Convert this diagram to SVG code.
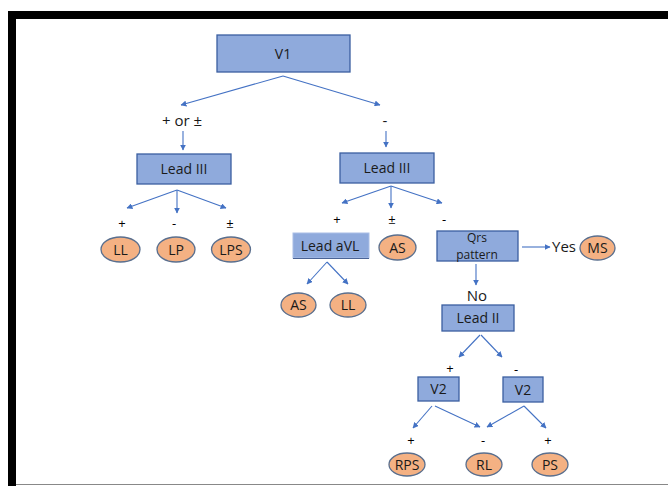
<svg xmlns="http://www.w3.org/2000/svg" width="668" height="486" viewBox="0 0 668 486">
<defs>
<marker id="ah" viewBox="0 0 10 10" refX="9" refY="5" markerWidth="6" markerHeight="6" orient="auto" markerUnits="userSpaceOnUse">
<path d="M0,0 L10,5 L0,10 z" fill="#4472C4"/>
</marker>
<style>
.box{fill:#8FAADC;stroke:#3B5FA0;stroke-width:1.3}
.ell{fill:#F4B183;stroke:#5A6F8E;stroke-width:1.3}
.t{font-family:"Open Sans","Liberation Sans",sans-serif;font-size:14px;fill:#1a1a1a;text-anchor:middle}
.s{font-family:"Open Sans","Liberation Sans",sans-serif;font-size:12px;fill:#1a1a1a;text-anchor:middle}
.l{font-family:"Open Sans","Liberation Sans",sans-serif;font-size:13px;fill:#000;text-anchor:middle}
.c line{stroke:#4472C4;stroke-width:1.1;marker-end:url(#ah)}
</style>
</defs>
<rect width="668" height="486" fill="#fff"/>
<rect x="8" y="11" width="660" height="8" fill="#000"/>
<rect x="8" y="11" width="8" height="475" fill="#000"/>
<line x1="16" y1="484.5" x2="668" y2="484.5" stroke="#888" stroke-width="1"/>

<g id="connectors" class="c">
<line x1="283" y1="76" x2="181" y2="105"/>
<line x1="283" y1="76" x2="380" y2="105"/>
<line x1="183" y1="131" x2="183" y2="150"/>
<line x1="386" y1="131" x2="386" y2="147"/>
<line x1="177" y1="190" x2="127" y2="208"/>
<line x1="177" y1="190" x2="177" y2="213"/>
<line x1="177" y1="190" x2="226" y2="208"/>
<line x1="391" y1="186" x2="342" y2="203"/>
<line x1="391" y1="186" x2="391" y2="208"/>
<line x1="391" y1="186" x2="442" y2="203"/>
<line x1="327" y1="262" x2="307" y2="284"/>
<line x1="327" y1="262" x2="348" y2="284"/>
<line x1="522" y1="247" x2="550" y2="247"/>
<line x1="476" y1="264" x2="476" y2="285"/>
<line x1="480" y1="335" x2="459" y2="357"/>
<line x1="481" y1="335" x2="502" y2="357"/>
<line x1="432" y1="406" x2="413" y2="428"/>
<line x1="435" y1="406" x2="480" y2="427"/>
<line x1="524" y1="406" x2="487" y2="427"/>
<line x1="524" y1="406" x2="546" y2="428"/>
</g>

<g id="labels">
<text class="t" x="182" y="126" style="font-size:15px">+ or ±</text>
<text class="t" x="385" y="126" style="font-size:15px">-</text>
<text class="l" x="122" y="228">+</text>
<text class="l" x="174" y="228">-</text>
<text class="l" x="230" y="228">±</text>
<text class="l" x="337" y="224">+</text>
<text class="l" x="392" y="224">±</text>
<text class="l" x="444" y="224">-</text>
<text class="t" x="564" y="252" style="font-size:15px">Yes</text>
<text class="t" x="477" y="301" style="font-size:15px">No</text>
<text class="l" x="450" y="373">+</text>
<text class="l" x="516" y="374">-</text>
<text class="l" x="411" y="445">+</text>
<text class="l" x="483" y="445">-</text>
<text class="l" x="548" y="445">+</text>
</g>

<g id="v1"><rect class="box" x="217" y="35" width="133" height="37"/><text class="t" x="283" y="59">V1</text></g>
<g id="lead3a"><rect class="box" x="137" y="154" width="94" height="30"/><text class="t" x="184" y="174">Lead III</text></g>
<g id="lead3b"><rect class="box" x="340" y="153" width="94" height="30"/><text class="t" x="387" y="173">Lead III</text></g>
<g id="ll1"><ellipse class="ell" cx="120.5" cy="249.5" rx="19.5" ry="12.5"/><text class="t" x="120.5" y="254.5">LL</text></g>
<g id="lp"><ellipse class="ell" cx="176" cy="249.5" rx="19" ry="12.5"/><text class="t" x="176" y="254.5">LP</text></g>
<g id="lps"><ellipse class="ell" cx="231" cy="249.5" rx="19.5" ry="12.5"/><text class="t" x="231" y="254.5">LPS</text></g>
<g id="leadavl"><rect x="293" y="233" width="76" height="25" fill="#8FAADC" stroke="#A9BEE6" stroke-width="1"/><line x1="293" y1="258.5" x2="369" y2="258.5" stroke="#4A6396" stroke-width="1"/><text class="t" x="330" y="251">Lead aVL</text></g>
<g id="as1"><ellipse class="ell" cx="397.5" cy="247.5" rx="18.5" ry="12.5"/><text class="t" x="397.5" y="252.5">AS</text></g>
<g id="qrs"><rect class="box" x="437" y="231" width="81" height="30"/><text class="s" x="477" y="242">Qrs</text><text class="s" x="477" y="259">pattern</text></g>
<g id="ms"><ellipse class="ell" cx="597.5" cy="248" rx="17.5" ry="12"/><text class="t" x="597.5" y="253">MS</text></g>
<g id="as2"><ellipse class="ell" cx="298.5" cy="305" rx="17.5" ry="12"/><text class="t" x="298.5" y="310">AS</text></g>
<g id="ll2"><ellipse class="ell" cx="348" cy="305" rx="18" ry="12"/><text class="t" x="348" y="310">LL</text></g>
<g id="lead2"><rect class="box" x="442" y="305" width="72" height="26"/><text class="t" x="478" y="323">Lead II</text></g>
<g id="v2a"><rect class="box" x="418" y="377" width="41" height="24"/><text class="t" x="438.5" y="394">V2</text></g>
<g id="v2b"><rect class="box" x="503" y="377" width="40" height="25"/><text class="t" x="523" y="394.5">V2</text></g>
<g id="rps"><ellipse class="ell" cx="407" cy="464.5" rx="18" ry="11.5"/><text class="t" x="407" y="469.5">RPS</text></g>
<g id="rl"><ellipse class="ell" cx="484" cy="464.5" rx="18" ry="11.5"/><text class="t" x="484" y="469.5">RL</text></g>
<g id="ps"><ellipse class="ell" cx="550" cy="464.5" rx="18" ry="11.5"/><text class="t" x="550" y="469.5">PS</text></g>
</svg>
